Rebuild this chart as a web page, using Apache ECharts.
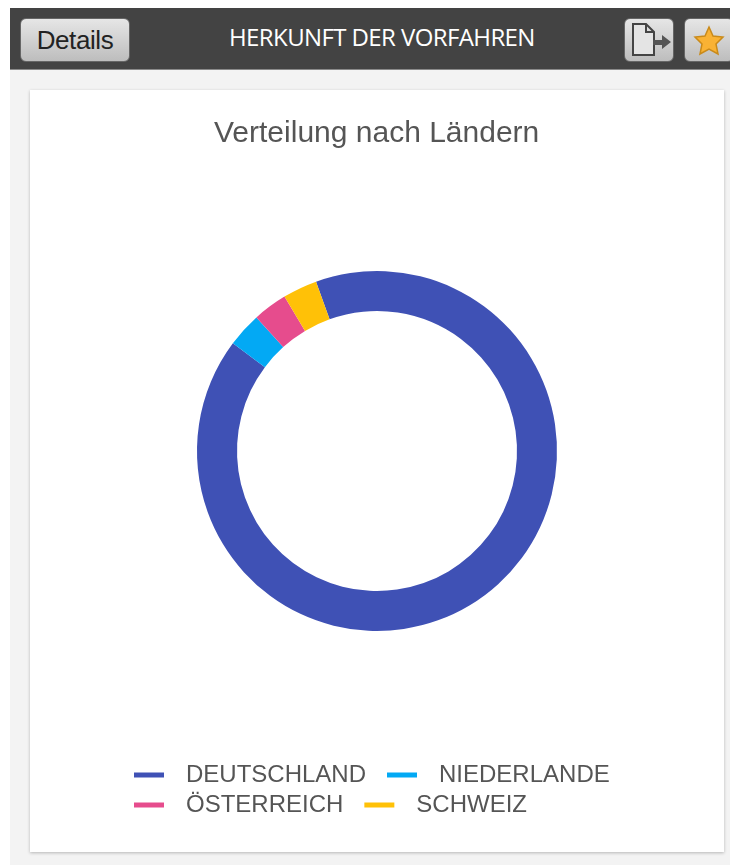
<!DOCTYPE html>
<html lang="de">
<head>
<meta charset="utf-8">
<title>Herkunft der Vorfahren</title>
<script src="https://cdn.jsdelivr.net/npm/echarts@6/dist/echarts.min.js"></script>
<style>
html,body{margin:0;padding:0;width:730px;height:865px;overflow:hidden;background:#fff;font-family:"Liberation Sans",Arial,sans-serif}
#page{position:absolute;left:10px;top:69px;width:720px;height:796px;background:#f3f3f3}
#bar{position:absolute;left:10px;top:8px;width:720px;height:62px;background:#434343;border-bottom:1px solid #8a8a8a;box-sizing:border-box;overflow:hidden}
#heading{position:absolute;left:219px;top:12px;width:305px;text-align:center;color:#fff;font:24px "Open Sans",sans-serif;letter-spacing:-.6px;white-space:nowrap}
.btn{position:absolute;top:10px;height:44px;box-sizing:border-box;border:1px solid #666;border-radius:6px;background:linear-gradient(#e6e6e6,#bdbdbd)}
#details{left:10px;width:110px;color:#222;font:26px/42px "Liberation Sans",Arial,sans-serif;text-align:center;letter-spacing:-.4px}
#export{left:614px;width:50px}
#fav{left:674px;width:50px}
#card{position:absolute;left:30px;top:90px;width:694px;height:762px;background:#fff;box-shadow:0 1px 3px rgba(0,0,0,.25)}
#chart{position:absolute;left:0;top:0;width:730px;height:865px}
</style>
</head>
<body>
<div id="page"></div>
<div id="bar">
  <div class="btn" id="details">Details</div>
  <div id="heading">HERKUNFT DER VORFAHREN</div>
  <div class="btn" id="export"><svg width="48" height="42" viewBox="0 0 48 42"><path d="M8 5H21L29 13V36H8Z M21 5V13H29" fill="#e4e4e4" stroke="#444" stroke-width="2"/><path d="M28 21H37V16L46 23L37 30V26H28Z" fill="#555"/></svg></div>
  <div class="btn" id="fav"><svg width="48" height="42" viewBox="0 0 48 42"><path d="M24 8L28 17L38 18L31 25L33 35L24 30L15 35L17 25L10 18L20 17Z" fill="#f9b234" stroke="#c98a1a" stroke-width="1.5"/></svg></div>
</div>
<div id="card"></div>
<div id="chart"></div>
<script>
const chartTitle = 'Verteilung nach Ländern';
const countries = ['DEUTSCHLAND', 'NIEDERLANDE', 'ÖSTERREICH', 'SCHWEIZ'];
const shares = [88, 3, 3, 3];
const colors = ['#3f51b5', '#03a9f4', '#e64c8d', '#ffc107'];

const legendBase = {
  icon: 'rect', itemWidth: 30, itemHeight: 5, itemGap: 21, selectedMode: false,
  orient: 'horizontal',
  textStyle: {color: '#555', fontSize: 24, fontFamily: '"Liberation Sans", Arial, sans-serif', padding: [0, 0, 0, 17]}
};
const chart = echarts.init(document.getElementById('chart'), null, {renderer: 'canvas'});
chart.setOption({
  backgroundColor: 'transparent',
  animation: false,
  color: colors,
  title: {
    text: chartTitle, left: 209, top: 114,
    textStyle: {color: '#555', fontSize: 30, fontWeight: 'normal', fontFamily: '"Liberation Sans", Arial, sans-serif'}
  },
  legend: [
    Object.assign({}, legendBase, {left: 129, top: 758, data: countries.slice(0, 2)}),
    Object.assign({}, legendBase, {left: 129, top: 788, data: countries.slice(2)})
  ],
  series: [{
    type: 'pie',
    center: [377, 451],
    radius: [140, 180],
    startAngle: 109.8,
    silent: true,
    label: {show: false},
    labelLine: {show: false},
    data: countries.map((name, i) => ({name, value: shares[i]}))
  }]
});
</script>
</body>
</html>
